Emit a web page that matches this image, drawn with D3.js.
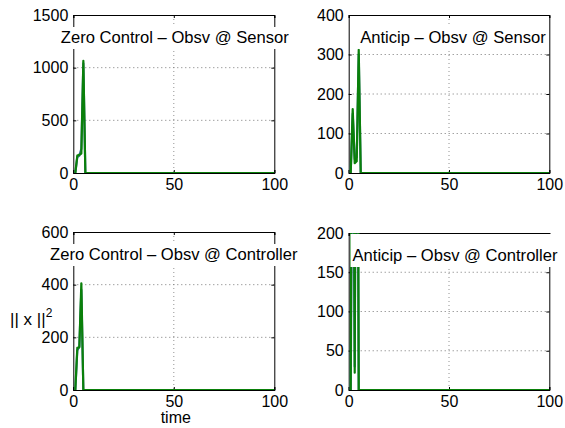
<!DOCTYPE html>
<html><head><meta charset="utf-8">
<script src="https://cdn.jsdelivr.net/npm/d3@7"></script>
<style>body{margin:0;background:#fff}svg{display:block}text{font-family:Helvetica,"Liberation Sans",Arial,sans-serif}</style>
</head><body><svg id="c" width="565" height="428"></svg>
<script>
// ---- data ----
const titles = ["Zero Control \u2013 Obsv @ Sensor","Anticip \u2013 Obsv @ Sensor","Zero Control \u2013 Obsv @ Controller","Anticip \u2013 Obsv @ Controller"];
const xTicks = [0,50,100];
const yTicksTL = [0,500,1000,1500];
const yTicksTR = [0,100,200,300,400];
const yTicksBL = [0,200,400,600];
const yTicksBR = [0,50,100,150,200];
// time points (flat zero afterwards to t=100)
const tTL = [1,2,3,4,5,6,100];
const blueTL = [0,150,165,230,1040,0,0];
const greenTL = [0,165,172,185,1065,0,0];
const tTR = [1,2,3,4,5,6,100];
const blueTR = [0,150,35,40,300,0,0];
const greenTR = [0,162,25,30,312,0,0];
const tBL = [1,2,3,4,5,100];
const blueBL = [0,150,165,380,0,0];
const greenBL = [0,160,162,405,0,0];
const tBR = [1,2,3,4,5,100];
const blueBR = [0,400,30,600,0,0];
const greenBR = [0,800,22,900,0,0];

const svg = d3.select("#c");
const FS = 16;
const panels = [
  {x0:73.3,x1:274.3,y0:15,y1:173,ymax:1500,yt:yTicksTL,t:tTL,b:blueTL,g:greenTL,title:titles[0],dx:1,boxToTop:false},
  {x0:348.7,x1:549.3,y0:15,y1:173,ymax:400,yt:yTicksTR,t:tTR,b:blueTR,g:greenTR,title:titles[1],dx:4,boxToTop:false},
  {x0:73.3,x1:274.3,y0:232,y1:390,ymax:600,yt:yTicksBL,t:tBL,b:blueBL,g:greenBL,title:titles[2],dx:0,boxToTop:false},
  {x0:348.7,x1:549.3,y0:233,y1:390,ymax:200,yt:yTicksBR,t:tBR,b:blueBR,g:greenBR,title:titles[3],dx:6,boxToTop:true}
];
panels.forEach((p,i)=>{
  const x = d3.scaleLinear().domain([0,100]).range([p.x0,p.x1]);
  const y = d3.scaleLinear().domain([0,p.ymax]).range([p.y1,p.y0]);
  const g = svg.append("g");
  // grid
  g.selectAll(".gy").data(p.yt.slice(1,-1)).join("line")
    .attr("x1",p.x0).attr("x2",p.x1).attr("y1",d=>y(d)).attr("y2",d=>y(d))
    .attr("stroke","#555").attr("stroke-dasharray","1,3").attr("stroke-width",0.8);
  g.selectAll(".gx").data(xTicks.slice(1,-1)).join("line")
    .attr("y1",p.y0).attr("y2",p.y1).attr("x1",d=>x(d)).attr("x2",d=>x(d))
    .attr("stroke","#777").attr("stroke-dasharray","1,3").attr("stroke-width",0.8);
  // axes (inward ticks)
  const fmt = d3.format("d");
  const ax = d3.axisBottom(x).tickValues(xTicks).tickSize(-3).tickPadding(6).tickFormat(fmt);
  const axT = d3.axisTop(x).tickValues(xTicks).tickSize(-3).tickFormat("");
  const ay = d3.axisLeft(y).tickValues(p.yt).tickSize(-3).tickPadding(5).tickFormat(fmt);
  const ayR = d3.axisRight(y).tickValues(p.yt).tickSize(-3).tickFormat("");
  [[ax,`translate(0,${p.y1})`],[axT,`translate(0,${p.y0})`],[ay,`translate(${p.x0},0)`],[ayR,`translate(${p.x1},0)`]].forEach(([a,tr])=>{
    const gg = g.append("g").attr("transform",tr).call(a);
    gg.select(".domain").attr("stroke","#000").attr("stroke-width",1);
    gg.selectAll(".tick line").attr("stroke","#000");
    gg.selectAll("text").attr("font-size",FS).attr("fill","#000").style("font-family",'Helvetica,"Liberation Sans",Arial,sans-serif');
  });
  // lines
  const cid = "clip"+i;
  svg.append("clipPath").attr("id",cid).append("rect").attr("x",p.x0).attr("y",p.y0).attr("width",p.x1-p.x0).attr("height",p.y1-p.y0);
  const line = d3.line().x((d,j)=>x(p.t[j])).y(d=>y(d));
  g.append("path").attr("d",line(p.b)).attr("fill","none").attr("stroke","#3d6f98").attr("stroke-width",2.2).attr("clip-path",`url(#${cid})`).attr("stroke-linejoin","round");
  g.append("path").attr("d",line(p.g)).attr("fill","none").attr("stroke","#0a800a").attr("stroke-width",2.2).attr("clip-path",`url(#${cid})`).attr("stroke-linejoin","round");
  // title with white background
  const base = p.y0 + 28;
  const tg = g.append("g");
  const rect = tg.append("rect").attr("fill","#fff");
  const tt = tg.append("text").attr("x",(p.x0+p.x1)/2+p.dx).attr("y",base).attr("text-anchor","middle").attr("font-size",16.6).text(p.title);
  const bb = tt.node().getBBox();
  const top = p.boxToTop ? p.y0 + 1 : bb.y - 1;
  rect.attr("x",bb.x-2).attr("y",top).attr("width",bb.width+4).attr("height",bb.y+bb.height+2-top);
});
// axis labels
const yl = svg.append("text").attr("x",10).attr("y",325).attr("font-size",17);
yl.append("tspan").text("|| x ||");
yl.append("tspan").attr("dy",-8).attr("font-size",12).text("2");
svg.append("text").attr("x",(73.3+274.3)/2+2).attr("y",423).attr("text-anchor","middle").attr("font-size",FS).text("time");
</script></body></html>
